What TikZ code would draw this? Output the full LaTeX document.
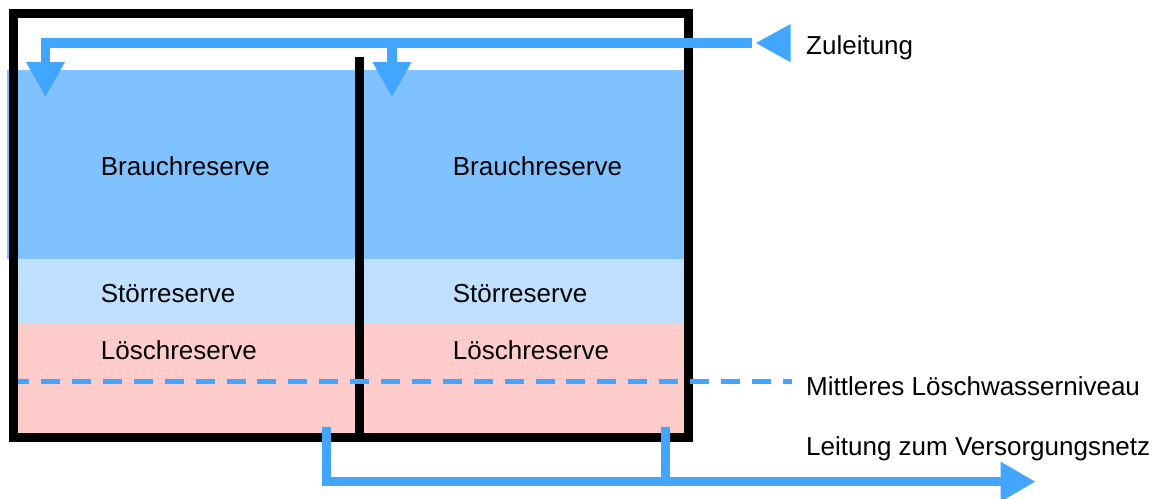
\documentclass[tikz,border=0pt]{standalone}
\usepackage{fontspec}
\setmainfont{Liberation Sans}
\definecolor{pipeblue}{RGB}{66,165,255}
\definecolor{usewater}{RGB}{128,193,255}
\definecolor{faultwater}{RGB}{191,224,255}
\definecolor{firewater}{RGB}{255,204,204}
\tikzset{
  pipe/.style={draw=pipeblue, line width=9.5pt, line join=miter, line cap=butt},
  pipetip/.style={fill=pipeblue},
  wall/.style={draw=black, line width=9pt, line join=miter},
  level/.style={draw=pipeblue, line width=5.5pt, dash pattern=on 19pt off 11.9pt, dash phase=7.8pt},
  lbl/.style={anchor=base west, inner sep=0pt, text=black, font=\fontsize{26}{30}\selectfont}
}
\begin{document}
\begin{tikzpicture}[x=1pt, y=-1pt]
\useasboundingbox (0,0) rectangle (1167,498);

% water layers inside the tank
\fill[usewater]   (7,70)   rectangle (684,259);
\fill[faultwater] (18,259) rectangle (684,324);
\fill[firewater]  (18,324) rectangle (684,433);

% tank walls and the dividing wall
\draw[wall] (13.5,13.5) rectangle (688.5,437);
\coordinate (divtop) at (359.5,57.3);
\coordinate (divbot) at (359.5,437);
\draw[wall] (divtop) -- (divbot);

% mean fire-water level
\coordinate (lvlA) at (18,381.5);
\coordinate (lvlB) at (792,381.5);
\draw[level] (lvlA) -- (lvlB);

% inlet pipe with its two outlets into the chambers
\coordinate (inEnd)  at (751.7,43);
\coordinate (outL)   at (45.5,62);
\coordinate (branch) at (392,43);
\coordinate (outR)   at (392,62);
\draw[pipe] (outL) |- (inEnd);
\draw[pipe] (branch) -- (outR);
\fill[pipetip] (26,62) -- (65,62) -- (45.5,96.7) -- cycle;
\fill[pipetip] (372.3,62) -- (411.7,62) -- (392,96.7) -- cycle;
\fill[pipetip] (756,43) -- (790.7,24) -- (790.7,62.3) -- cycle;

% outlet pipes to the supply network
\coordinate (drainL) at (326.7,427.3);
\coordinate (drainR) at (665.5,426.7);
\coordinate (joinR)  at (665.5,481.7);
\coordinate (netEnd) at (1001,481.7);
\draw[pipe] (drainL) |- (netEnd);
\draw[pipe] (drainR) -- (joinR);
\fill[pipetip] (1000.7,461.7) -- (1035,481.7) -- (1000.7,501.7) -- cycle;

% labels
\node[lbl] (brL)  at (100.7,175) {Brauchreserve};
\node[lbl] (brR)  at (452.7,175) {Brauchreserve};
\node[lbl] (stL)  at (100.7,302) {Störreserve};
\node[lbl] (stR)  at (452.7,302) {Störreserve};
\node[lbl] (loL)  at (100.7,359.5) {Löschreserve};
\node[lbl] (loR)  at (452.7,359.5) {Löschreserve};
\node[lbl] (zul)  at (806,54) {Zuleitung};
\node[lbl] (mlw)  at (806,395) {Mittleres Löschwasserniveau};
\node[lbl] (netz) at (806,455.7) {Leitung zum Versorgungsnetz};
\end{tikzpicture}
\end{document}
